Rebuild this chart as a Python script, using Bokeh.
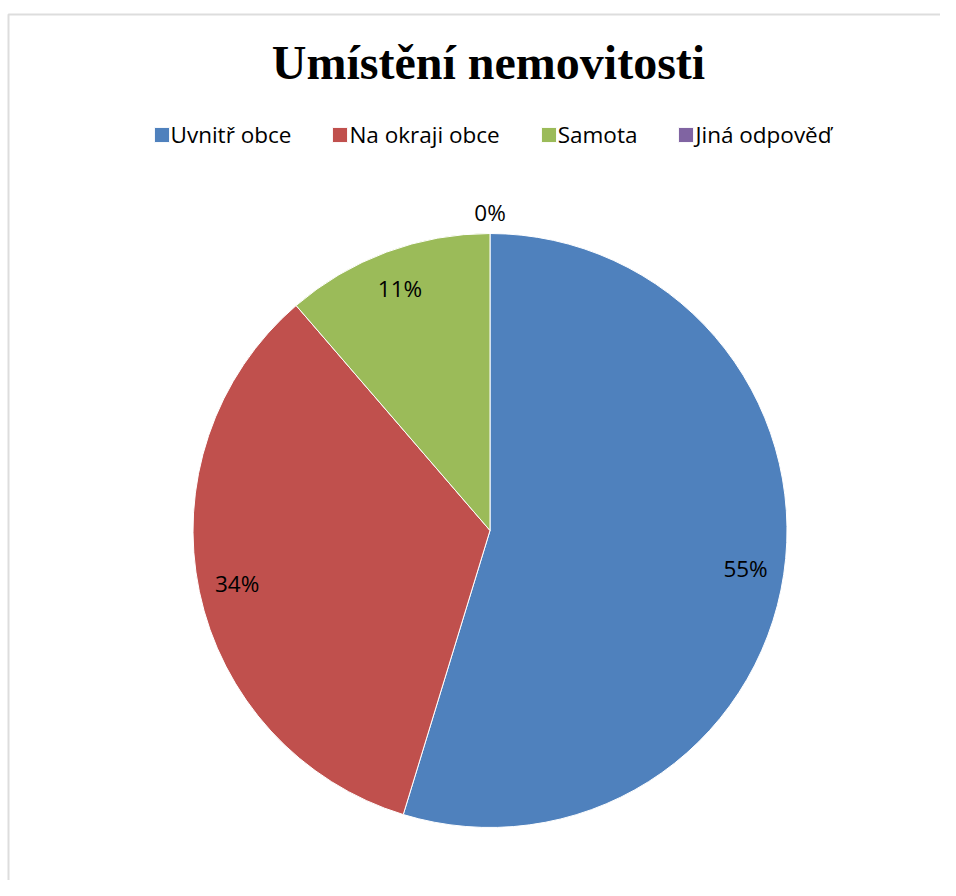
import math
from bokeh.plotting import figure
from bokeh.models import ColumnDataSource, Legend, LegendItem, Label, BoxAnnotation, Range1d
from bokeh.core.properties import value
from bokeh.embed import file_html
from bokeh.resources import INLINE

# ---- data ----
title_text = "Umístění nemovitosti"
categories = ["Uvnitř obce", "Na okraji obce", "Samota", "Jiná odpověď"]
counts = [29, 18, 6, 0]
colors = ["#4F81BD", "#C0504D", "#9BBB59", "#8064A2"]

# ---- layout ----
W, H = 940, 880
cx, cy, r = 489.5, 350.0, 297.0
label_font = "Open Sans"
label_size = "22.5px"

total = float(sum(counts))
fracs = [c / total for c in counts]
starts, ends, radii, lx, ly, texts = [], [], [], [], [], []
cum = 0.0
for f in fracs:
    a_start = math.pi / 2 - 2 * math.pi * (cum + f)
    a_end = math.pi / 2 - 2 * math.pi * cum
    starts.append(a_start)
    ends.append(a_end)
    radii.append(r if f > 0 else 0.0)
    mid = (a_start + a_end) / 2
    rr = 0.87 * r if f > 0 else 1.07 * r
    lx.append(cx + rr * math.cos(mid))
    ly.append(cy + rr * math.sin(mid))
    texts.append(f"{round(f * 100):.0f}%")
    cum += f

src = ColumnDataSource(dict(cat=categories, start=starts, end=ends, color=colors,
                            rad=radii, lx=lx, ly=ly, txt=texts))

p = figure(width=W, height=H, output_backend="svg", toolbar_location=None,
           x_range=Range1d(0, W), y_range=Range1d(0, H),
           x_axis_type=None, y_axis_type=None, min_border=0)
p.outline_line_color = None
p.grid.visible = False
p.background_fill_color = "white"
p.border_fill_color = "white"

# chart border (partially cropped)
p.add_layout(BoxAnnotation(left=8, right=2000, top=866, bottom=-200,
                           fill_alpha=0, line_color="#8f8f8f", line_width=2))

wedges = p.wedge(x=cx, y=cy, radius="rad", start_angle="start", end_angle="end",
                 fill_color="color", line_color="white", line_width=1, source=src)

p.text(x="lx", y="ly", text="txt", source=src, text_align="center",
       text_baseline="middle", text_font=value(label_font),
       text_font_size=label_size, text_color="black")

p.add_layout(Label(x=488, y=H - 61.5, text=title_text, text_align="center",
                   text_baseline="alphabetic", text_font="Liberation Serif",
                   text_font_style="bold", text_font_size="48px", text_color="black"))

items = [LegendItem(label=c, renderers=[wedges], index=i) for i, c in enumerate(categories)]
legend = Legend(items=items, orientation="horizontal", location=(151.5, 730),
                glyph_width=19, glyph_height=19, label_standoff=0, spacing=39,
                padding=0, margin=0, border_line_color=None, background_fill_alpha=0,
                label_text_font=label_font, label_text_font_size=label_size,
                label_text_color="black")
p.add_layout(legend, "center")

open("out.html", "w").write(file_html(p, INLINE))
